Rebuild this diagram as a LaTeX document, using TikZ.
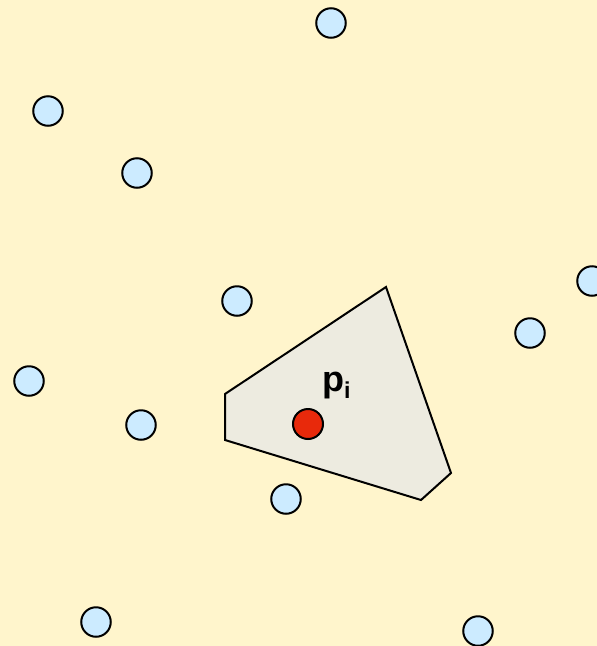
\documentclass[tikz,border=0pt]{standalone}
\usepackage{fontspec}
\setmainfont{Liberation Sans}
\definecolor{bg}{HTML}{FFF5CC}
\definecolor{site}{HTML}{CCEBFF}
\definecolor{cell}{HTML}{EDEBE0}
\definecolor{red1}{HTML}{E8290B}
\begin{document}
\begin{tikzpicture}[x=1pt,y=-1pt,
  sitept/.style={circle,draw=black,fill=site,line width=2pt,minimum size=29.5pt,inner sep=0pt},
  mainpt/.style={circle,draw=black,fill=red1,line width=2pt,minimum size=30pt,inner sep=0pt}]
\fill[bg] (0,0) rectangle (597,646);
\useasboundingbox (0,0) rectangle (597,646);
\draw[fill=cell,line width=2pt,line join=miter]
  (386,287) -- (451,473) -- (421,500) -- (225,440) -- (225,394) -- cycle;
\node[sitept] (s1) at (331,23) {};
\node[sitept] (s2) at (48,111) {};
\node[sitept] (s3) at (137,173) {};
\node[sitept] (s4) at (237,301) {};
\node[sitept] (s5) at (592,281) {};
\node[sitept] (s6) at (530,333) {};
\node[sitept] (s7) at (29,381) {};
\node[sitept] (s8) at (141,425) {};
\node[sitept] (s9) at (286,499) {};
\node[sitept] (s10) at (96,622) {};
\node[sitept] (s11) at (478,631) {};
\node[mainpt] (p) at (308,424) {};
\node[anchor=base west,inner sep=0pt,font=\bfseries\fontsize{36}{36}\selectfont] (lbl) at (322,391)
  {p\raisebox{-7pt}{\fontsize{23}{23}\selectfont i}};
\end{tikzpicture}
\end{document}
